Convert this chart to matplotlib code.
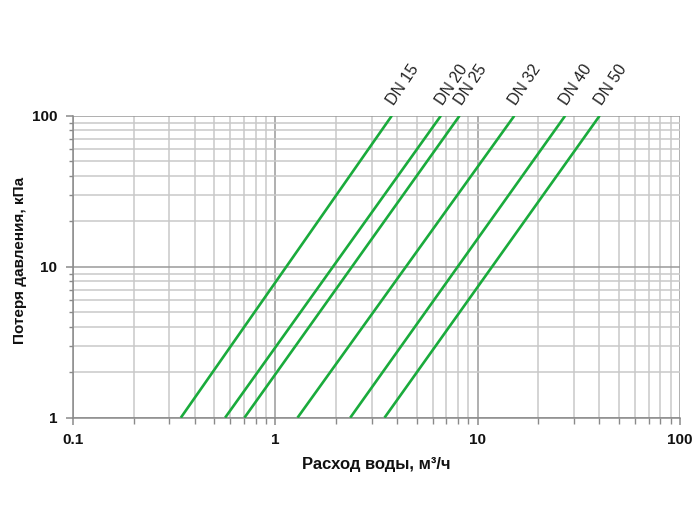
import numpy as np
import matplotlib.pyplot as plt
from matplotlib.ticker import LogLocator, NullFormatter

# Потеря давления vs расход воды для разных DN (концы прямых на лог-шкале)
dn_labels = ['DN 15', 'DN 20', 'DN 25', 'DN 32', 'DN 40', 'DN 50']
flow_at_1kpa = [0.342, 0.566, 0.705, 1.29, 2.35, 3.47]
flow_at_100kpa = [3.77, 6.59, 8.15, 15.2, 27.1, 40.1]
dp_range = [1, 100]

x_ticks = [0.1, 1, 10, 100]
x_tick_labels = ['0.1', '1', '10', '100']
y_ticks = [1, 10, 100]
y_tick_labels = ['1', '10', '100']

plt.rcParams['font.family'] = ['Liberation Sans', 'DejaVu Sans']

fig = plt.figure(figsize=(7, 5.25), dpi=100)
ax = fig.add_axes([0.1039, 0.2044, 0.8675, 0.5752])

green = '#1aab3c'
for label, q1, q2 in zip(dn_labels, flow_at_1kpa, flow_at_100kpa):
    ax.plot([q1, q2], dp_range, color=green, linewidth=1.9, solid_capstyle='butt', zorder=3)
    ax.annotate(label, xy=(q2, dp_range[1]), xytext=(1.5, 7), textcoords='offset points',
                rotation=56, rotation_mode='anchor', ha='left', va='baseline',
                fontsize=11.5, color='#222222', annotation_clip=False)

ax.set_xscale('log')
ax.set_yscale('log')
ax.set_xlim(0.1, 100)
ax.set_ylim(1, 100)

ax.set_xticks(x_ticks)
ax.set_xticklabels(x_tick_labels)
ax.set_yticks(y_ticks)
ax.set_yticklabels(y_tick_labels)
ax.xaxis.set_minor_locator(LogLocator(base=10, subs=np.arange(2, 10)))
ax.yaxis.set_minor_locator(LogLocator(base=10, subs=np.arange(2, 10)))
ax.xaxis.set_minor_formatter(NullFormatter())
ax.yaxis.set_minor_formatter(NullFormatter())

# сетка
ax.grid(True, which='major', color='#9a9a9a', linewidth=1.1)
ax.grid(True, which='minor', color='#c9c9c9', linewidth=1.1)
ax.set_axisbelow(True)

for side in ['top', 'right']:
    ax.spines[side].set_visible(False)
for side in ['left', 'bottom']:
    ax.spines[side].set_color('#8a8a8a')
    ax.spines[side].set_linewidth(1.1)

ax.tick_params(which='major', length=5, color='#8a8a8a', width=1.1,
               labelsize=11, labelcolor='#111111', pad=6)
ax.tick_params(which='minor', length=4, color='#8a8a8a', width=1.0)
ax.tick_params(axis='y', which='minor', length=3)
for lbl in ax.get_xticklabels() + ax.get_yticklabels():
    lbl.set_fontweight('bold')

ax.set_xlabel('Расход воды, м³/ч', fontsize=12, fontweight='bold', color='#111111', labelpad=7)
ax.set_ylabel('Потеря давления, кПа', fontsize=11, fontweight='bold', color='#111111', labelpad=5)
ax.yaxis.set_label_coords(-0.075, 0.52)

fig.savefig('out.png', dpi=100)
